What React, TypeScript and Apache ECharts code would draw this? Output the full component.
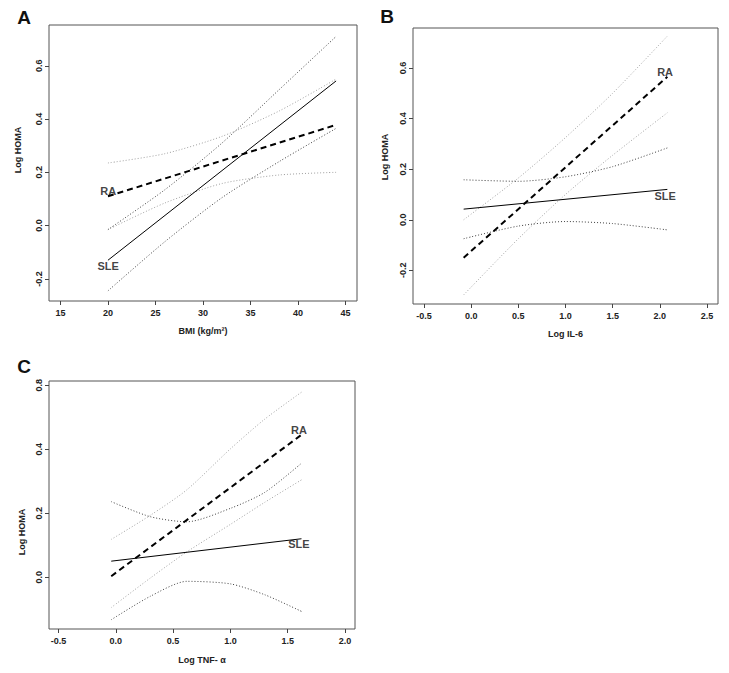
import React, { useEffect, useRef } from "react";
import * as echarts from "echarts";

// ---------- Panel A: Log HOMA vs BMI ----------
const aLineX = [20, 44];
const aSLEFit = [-0.13, 0.543];
const aRAFit = [0.11, 0.378];
const aBandX = [20, 26, 32, 38, 44];
const aSLEUpper = [-0.015, 0.135, 0.31, 0.51, 0.71];
const aSLELower = [-0.245, -0.06, 0.105, 0.24, 0.365];
const aRAUpper = [0.235, 0.27, 0.335, 0.43, 0.55];
const aRALower = [-0.015, 0.085, 0.158, 0.19, 0.2];
const aXTicks = [15, 20, 25, 30, 35, 40, 45];
const aXTickLabels = ["15", "20", "25", "30", "35", "40", "45"];
const aYTicks = [-0.2, 0, 0.2, 0.4, 0.6];
const aYTickLabels = ["-0.2", "0.0", "0.2", "0.4", "0.6"];
const aLabelAnchors = [
  { name: "RA", x: 20.03, y: 0.13 },
  { name: "SLE", x: 20.03, y: -0.151 },
];

// ---------- Panel B: Log HOMA vs Log IL-6 ----------
const bLineX = [-0.08, 2.08];
const bSLEFit = [0.042, 0.12];
const bRAFit = [-0.15, 0.565];
const bBandX = [-0.08, 0.5, 1.0, 1.5, 2.08];
const bSLEUpper = [0.158, 0.152, 0.17, 0.21, 0.284];
const bSLELower = [-0.075, -0.025, -0.007, -0.015, -0.04];
const bRAUpper = [0.0, 0.165, 0.325, 0.5, 0.726];
const bRALower = [-0.297, -0.075, 0.1, 0.255, 0.423];
const bXTicks = [-0.5, 0, 0.5, 1.0, 1.5, 2.0, 2.5];
const bXTickLabels = ["-0.5", "0.0", "0.5", "1.0", "1.5", "2.0", "2.5"];
const bYTicks = [-0.2, 0, 0.2, 0.4, 0.6];
const bYTickLabels = ["-0.2", "0.0", "0.2", "0.4", "0.6"];
const bLabelAnchors = [
  { name: "RA", x: 2.056, y: 0.586 },
  { name: "SLE", x: 2.056, y: 0.095 },
];

// ---------- Panel C: Log HOMA vs Log TNF-α ----------
const cLineX = [-0.04, 1.62];
const cSLEFit = [0.05, 0.12];
const cRAFit = [0.003, 0.445];
const cBandX = [-0.04, 0.3, 0.62, 1.0, 1.3, 1.62];
const cSLEUpper = [0.236, 0.189, 0.173, 0.215, 0.265, 0.356];
const cSLELower = [-0.133, -0.06, -0.013, -0.021, -0.055, -0.107];
const cRAUpper = [0.118, 0.193, 0.273, 0.401, 0.494, 0.578];
const cRALower = [-0.095, -0.003, 0.079, 0.165, 0.234, 0.304];
const cXTicks = [-0.5, 0, 0.5, 1.0, 1.5, 2.0];
const cXTickLabels = ["-0.5", "0.0", "0.5", "1.0", "1.5", "2.0"];
const cYTicks = [0, 0.2, 0.4, 0.6];
const cYTickLabels = ["0.0", "0.2", "0.4", "0.8"];
const cLabelAnchors = [
  { name: "RA", x: 1.598, y: 0.46 },
  { name: "SLE", x: 1.598, y: 0.104 },
];

const FONT = "'Liberation Sans', Arial, Helvetica, sans-serif";

const zip = (xs: number[], ys: number[]) => xs.map((x, i) => [x, ys[i]]);
const lookup = (ticks: number[], labels: string[]) => (v: number) => {
  const i = ticks.findIndex((t) => Math.abs(t - v) < 1e-9);
  return i >= 0 ? labels[i] : "";
};

type PanelDef = {
  grid: { left: number; top: number; width: number; height: number };
  xMin: number; xMax: number; yMin: number; yMax: number;
  xTicks: number[]; xTickLabels: string[]; yTicks: number[]; yTickLabels: string[];
  xName: string; xNameGap: number;
  lineX: number[]; sleFit: number[]; raFit: number[];
  bandX: number[]; sleUp: number[]; sleLo: number[]; raUp: number[]; raLo: number[];
  anchors: { name: string; x: number; y: number }[];
};

const panels: PanelDef[] = [
  {
    grid: { left: 49, top: 25, width: 308, height: 276 },
    xMin: 13.8, xMax: 46.2, yMin: -0.283, yMax: 0.753,
    xTicks: aXTicks, xTickLabels: aXTickLabels, yTicks: aYTicks, yTickLabels: aYTickLabels,
    xName: "BMI (kg/m²)", xNameGap: 25,
    lineX: aLineX, sleFit: aSLEFit, raFit: aRAFit,
    bandX: aBandX, sleUp: aSLEUpper, sleLo: aSLELower, raUp: aRAUpper, raLo: aRALower,
    anchors: aLabelAnchors,
  },
  {
    grid: { left: 413, top: 28, width: 305, height: 276 },
    xMin: -0.617, xMax: 2.617, yMin: -0.333, yMax: 0.758,
    xTicks: bXTicks, xTickLabels: bXTickLabels, yTicks: bYTicks, yTickLabels: bYTickLabels,
    xName: "Log IL-6", xNameGap: 25,
    lineX: bLineX, sleFit: bSLEFit, raFit: bRAFit,
    bandX: bBandX, sleUp: bSLEUpper, sleLo: bSLELower, raUp: bRAUpper, raLo: bRALower,
    anchors: bLabelAnchors,
  },
  {
    grid: { left: 49, top: 381, width: 306, height: 248 },
    xMin: -0.583, xMax: 2.087, yMin: -0.162, yMax: 0.613,
    xTicks: cXTicks, xTickLabels: cXTickLabels, yTicks: cYTicks, yTickLabels: cYTickLabels,
    xName: "Log TNF- α", xNameGap: 26,
    lineX: cLineX, sleFit: cSLEFit, raFit: cRAFit,
    bandX: cBandX, sleUp: cSLEUpper, sleLo: cSLELower, raUp: cRAUpper, raLo: cRALower,
    anchors: cLabelAnchors,
  },
];

function buildOption() {
  const grids: any[] = [];
  const xAxes: any[] = [];
  const yAxes: any[] = [];
  const series: any[] = [];

  panels.forEach((p, i) => {
    grids.push({ ...p.grid, show: true, borderColor: "#555", borderWidth: 1, backgroundColor: "#fff" });
    const labelStyle = { fontFamily: FONT, fontSize: 9, fontWeight: "bold", color: "#222" };
    xAxes.push({
      type: "value", gridIndex: i, min: p.xMin, max: p.xMax, position: "bottom",
      axisLine: { show: false, onZero: false }, splitLine: { show: false },
      axisTick: { show: true, customValues: p.xTicks, length: 4, lineStyle: { color: "#444" } },
      axisLabel: { ...labelStyle, customValues: p.xTicks, formatter: lookup(p.xTicks, p.xTickLabels), margin: 7 },
      name: p.xName, nameLocation: "middle", nameGap: p.xNameGap,
      nameTextStyle: { fontFamily: FONT, fontSize: 9, fontWeight: "bold", color: "#222" },
    });
    yAxes.push({
      type: "value", gridIndex: i, min: p.yMin, max: p.yMax, position: "left",
      axisLine: { show: false, onZero: false }, splitLine: { show: false },
      axisTick: { show: true, customValues: p.yTicks, length: 4, lineStyle: { color: "#444" } },
      axisLabel: { ...labelStyle, customValues: p.yTicks, formatter: lookup(p.yTicks, p.yTickLabels), rotate: 90, margin: 6 },
    });

    const common = { xAxisIndex: i, yAxisIndex: i, showSymbol: false, symbol: "none", silent: true };
    const band = (data: number[], color: string) => ({
      ...common, type: "line", smooth: 0.25,
      data: zip(p.bandX, data),
      lineStyle: { color, width: 1, type: [1, 2] },
    });
    series.push(band(p.raUp, "#a0a0a0"));
    series.push(band(p.raLo, "#a0a0a0"));
    series.push(band(p.sleUp, "#404040"));
    series.push(band(p.sleLo, "#404040"));
    series.push({
      ...common, type: "line", data: zip(p.lineX, p.sleFit),
      lineStyle: { color: "#000", width: 1, type: "solid" },
    });
    series.push({
      ...common, type: "line", data: zip(p.lineX, p.raFit),
      lineStyle: { color: "#000", width: 2, type: [6, 4] },
    });
    series.push({
      type: "scatter", xAxisIndex: i, yAxisIndex: i, silent: true,
      symbolSize: 1, itemStyle: { color: "transparent" },
      data: p.anchors.map((a) => ({ name: a.name, value: [a.x, a.y] })),
      label: {
        show: true, position: "inside", formatter: "{b}",
        fontFamily: FONT, fontSize: 11, fontWeight: "bold", color: "#111",
      },
    });
  });

  const yTitle = (x: number, y: number) => ({
    type: "text", x, y, rotation: Math.PI / 2,
    style: { text: "Log HOMA", font: `bold 9px ${FONT}`, fill: "#222", align: "center", verticalAlign: "middle" },
  });
  const letter = (t: string, x: number, y: number) => ({
    type: "text", x, y,
    style: { text: t, font: `bold 19px ${FONT}`, fill: "#111", align: "center", verticalAlign: "middle" },
  });

  return {
    animation: false,
    backgroundColor: "#fff",
    grid: grids,
    xAxis: xAxes,
    yAxis: yAxes,
    series,
    graphic: [
      letter("A", 24, 17),
      letter("B", 387, 16),
      letter("C", 24, 366),
      yTitle(18, 150),
      yTitle(385, 157),
      yTitle(22, 532),
    ],
  };
}

export default function App() {
  const ref = useRef<HTMLDivElement>(null);
  useEffect(() => {
    if (!ref.current) return;
    const chart = echarts.init(ref.current, undefined, { renderer: "svg" });
    chart.setOption(buildOption() as any);
    return () => chart.dispose();
  }, []);
  return (
    <div
      ref={ref}
      style={{ position: "fixed", left: 0, top: 0, width: 729, height: 673, background: "#fff" }}
    />
  );
}
